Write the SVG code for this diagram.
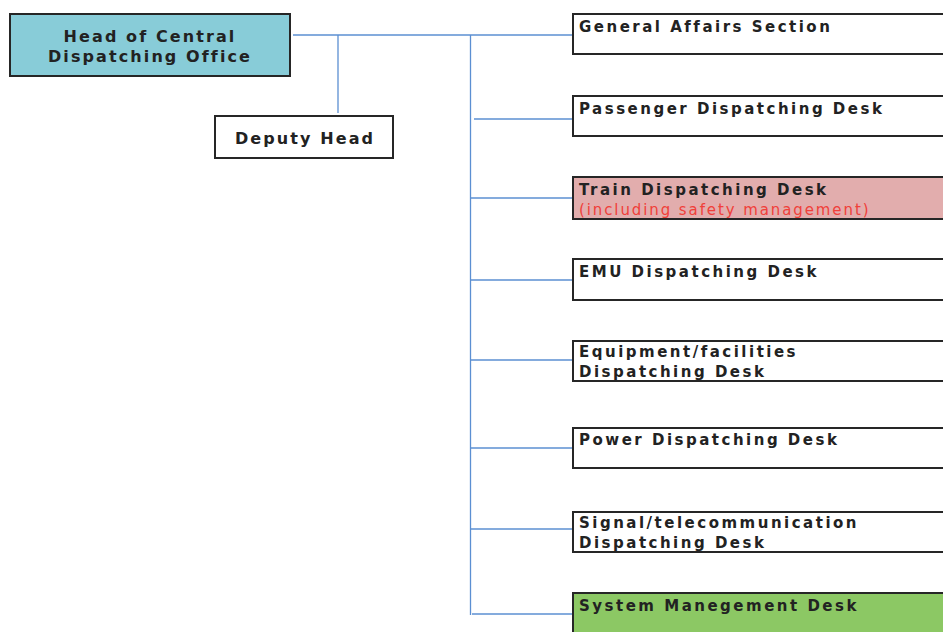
<svg xmlns="http://www.w3.org/2000/svg" width="943" height="632" viewBox="0 0 943 632">
  <style>
    .box { stroke: #262626; stroke-width: 2; fill: #ffffff; }
    .head { fill: #88CCD8; }
    .train { fill: #E2ADAD; }
    .system { fill: #8CC864; }
    .lbl { font-family: "DejaVu Sans", "Liberation Sans", sans-serif; font-weight: bold; font-size: 15px; fill: #222222; letter-spacing: 2.5px; }
    .big { font-size: 16px; letter-spacing: 2.1px; }
    .note { font-family: "DejaVu Sans", "Liberation Sans", sans-serif; font-size: 15px; fill: #F0403A; letter-spacing: 1.9px; }
    .mid { text-anchor: middle; }
    .conn line { stroke: #5B8FD2; stroke-width: 1.3; }
  </style>

  <!-- connectors -->
  <g id="connectors" class="conn">
    <line x1="293" y1="35" x2="577" y2="35"/>
    <line x1="338" y1="35" x2="338" y2="113"/>
    <line x1="470.5" y1="35" x2="470.5" y2="615"/>
    <line x1="474" y1="119" x2="577" y2="119"/>
    <line x1="470.5" y1="198" x2="574" y2="198"/>
    <line x1="470.5" y1="280" x2="574" y2="280"/>
    <line x1="470.5" y1="360" x2="577" y2="360"/>
    <line x1="470.5" y1="448" x2="577" y2="448"/>
    <line x1="470.5" y1="529" x2="574" y2="529"/>
    <line x1="472" y1="614" x2="574" y2="614"/>
  </g>

  <g id="head">
    <rect class="box head" x="10" y="14" width="280" height="62"/>
    <text class="lbl big mid" x="150" y="42">Head of Central</text>
    <text class="lbl big mid" x="150" y="62">Dispatching Office</text>
  </g>

  <g id="deputy">
    <rect class="box" x="215" y="116" width="178" height="42"/>
    <text class="lbl big mid" x="305" y="144">Deputy Head</text>
  </g>

  <g id="general-affairs">
    <rect class="box" x="573" y="14" width="380" height="40"/>
    <text class="lbl" x="579" y="32">General Affairs Section</text>
  </g>

  <g id="passenger">
    <rect class="box" x="573" y="96" width="380" height="40"/>
    <text class="lbl" x="579" y="114">Passenger Dispatching Desk</text>
  </g>

  <g id="train">
    <rect class="box train" x="573" y="177" width="380" height="42"/>
    <text class="lbl" x="579" y="195">Train Dispatching Desk</text>
    <text class="note" x="579" y="215">(including safety management)</text>
  </g>

  <g id="emu">
    <rect class="box" x="573" y="259" width="380" height="41"/>
    <text class="lbl" x="579" y="277">EMU Dispatching Desk</text>
  </g>

  <g id="equipment">
    <rect class="box" x="573" y="341" width="380" height="40"/>
    <text class="lbl" x="579" y="357">Equipment/facilities</text>
    <text class="lbl" x="579" y="377">Dispatching Desk</text>
  </g>

  <g id="power">
    <rect class="box" x="573" y="428" width="380" height="40"/>
    <text class="lbl" x="579" y="445">Power Dispatching Desk</text>
  </g>

  <g id="signal">
    <rect class="box" x="573" y="512" width="380" height="40"/>
    <text class="lbl" x="579" y="528">Signal/telecommunication</text>
    <text class="lbl" x="579" y="548">Dispatching Desk</text>
  </g>

  <g id="system">
    <rect class="box system" x="573" y="593" width="380" height="60"/>
    <text class="lbl" x="579" y="611">System Manegement Desk</text>
  </g>
</svg>
